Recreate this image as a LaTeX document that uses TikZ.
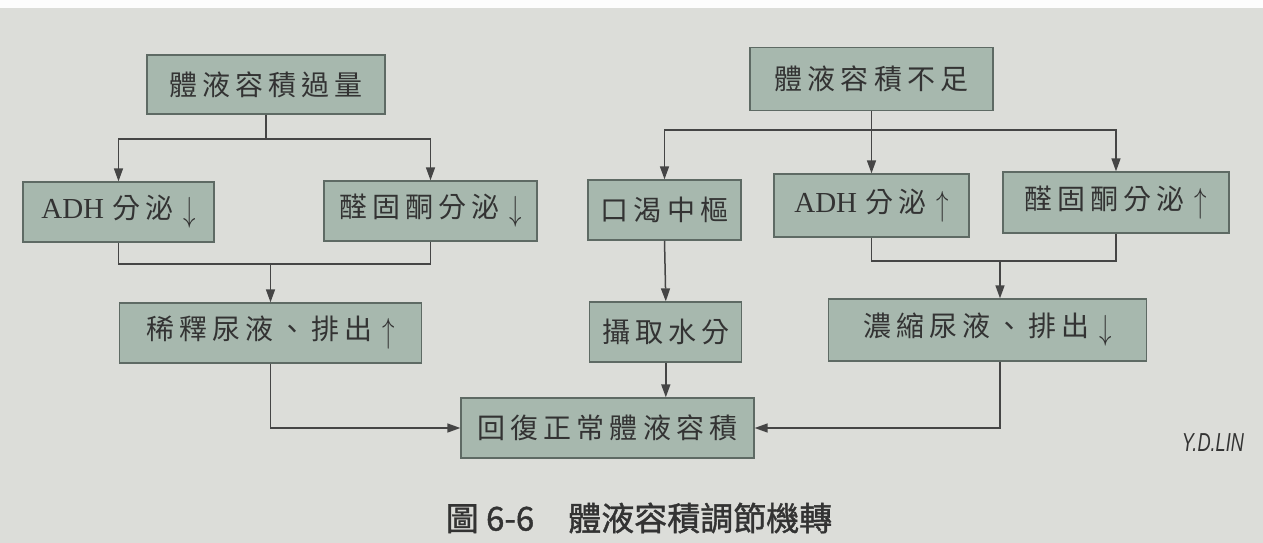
\documentclass[tikz,border=0pt]{standalone}
\usepackage{fontspec}
\setmainfont{Liberation Serif}
\newfontfamily\cjk[LetterSpace=18]{Noto Sans CJK TC}
\newfontfamily\capfont[FakeBold=1.2]{Noto Sans CJK TC}
\newfontfamily\handfont{Liberation Sans}
\usetikzlibrary{arrows.meta}
\definecolor{paper}{HTML}{DCDDD9}
\definecolor{boxfill}{HTML}{A7B8AE}
\definecolor{boxline}{HTML}{5E6A64}
\definecolor{linecol}{HTML}{454545}
\definecolor{txt}{HTML}{333333}
\tikzset{
  box/.style={draw=boxline, fill=boxfill, line width=1.3pt, inner sep=0pt,
    text=txt, font=\fontsize{28}{32}\selectfont},
  conn/.style={draw=linecol, line width=1.5pt},
  arr/.style={conn, -{Triangle[length=13pt,width=9pt]}},
}
\newcommand{\dn}{\hspace{10pt}\raisebox{-3pt}{\scalebox{1}[1.4]{$\downarrow$}}}
\newcommand{\up}{\hspace{10pt}\raisebox{-3pt}{\scalebox{1}[1.4]{$\uparrow$}}}
\begin{document}
\begin{tikzpicture}[x=1pt,y=-1pt]
\useasboundingbox (0,0) rectangle (1263,543);
\fill[paper] (0,0) rectangle (1263,543);
\fill[white!95!paper] (0,0) rectangle (1263,8);
% nodes
\node[box, minimum width=238, minimum height=59] (A) at (266,84.5) {\cjk 體液容積過量};
\node[box, minimum width=243, minimum height=63] (B) at (871.5,79) {\cjk 體液容積不足};
\node[box, minimum width=191, minimum height=60] (C) at (118.5,212) {{\fontsize{29}{32}\selectfont ADH}\hspace{8pt}{\cjk 分泌}\dn};
\node[box, minimum width=213, minimum height=60] (D) at (430.5,211) {{\cjk 醛固酮分泌}\dn};
\node[box, minimum width=153, minimum height=60] (E) at (664.5,210) {\cjk 口渴中樞};
\node[box, minimum width=195, minimum height=63] (F) at (871.5,205.5) {{\fontsize{29}{32}\selectfont ADH}\hspace{8pt}{\cjk 分泌}\up};
\node[box, minimum width=226, minimum height=61] (G) at (1116,202.5) {{\cjk 醛固酮分泌}\up};
\node[box, minimum width=302, minimum height=60] (H) at (270.5,333) {{\cjk 稀釋尿液、排出}\up};
\node[box, minimum width=152, minimum height=60] (I) at (665.8,332) {\cjk 攝取水分};
\node[box, minimum width=318, minimum height=62] (J) at (987.5,330) {{\cjk 濃縮尿液、排出}\dn};
\node[box, minimum width=293, minimum height=60] (K) at (607.5,428) {\cjk 回復正常體液容積};
% junction coordinates
\coordinate (a1) at (266,139);
\coordinate (j1) at (270.5,264);
\coordinate (b1) at (871.5,130);
\coordinate (j2) at (1000,261);
% left branch
\draw[conn] (A.south) -- (a1);
\draw[arr] (a1) -| (C.north);
\draw[arr] (a1) -| (D.north);
\draw[conn] (C.south) |- (j1);
\draw[conn] (D.south) |- (j1);
\draw[arr] (j1) -- (H.north);
\draw[arr] (H.south) |- (K.west);
% right branch
\draw[conn] (B.south) -- (b1);
\draw[arr] (b1) -| (E.north);
\draw[arr] (b1) -- (F.north);
\draw[arr] (b1) -| (G.north);
\draw[conn] (F.south) |- (j2);
\draw[conn] (G.south) |- (j2);
\draw[arr] (j2) -- (j2 |- J.north);
\draw[arr] (E.south) -- (I.north);
\draw[arr] (I.south) -- (I.south |- K.north);
\draw[arr] (J.south -| j2) |- (K.east);
% caption and signature
\node[text=txt, font=\capfont\fontsize{33}{38}\selectfont] (cap) at (639,518) {圖 6-6\hspace{34pt}體液容積調節機轉};
\node[text=txt, font=\handfont\itshape\fontsize{26}{30}\selectfont] (sig) at (1213,443) {\scalebox{0.7}[1]{Y.D.LIN}};
\end{tikzpicture}
\end{document}
